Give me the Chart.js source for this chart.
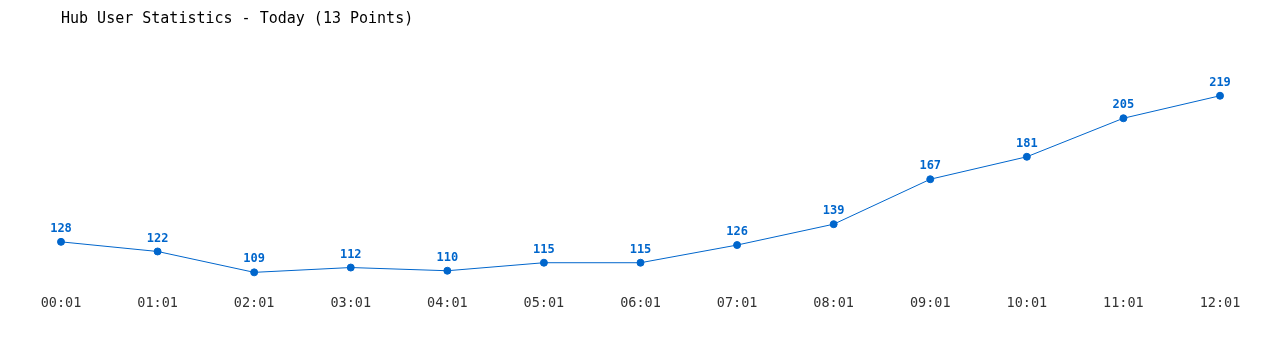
<!DOCTYPE html>
<html lang="en">
<head>
<meta charset="utf-8" />
<title>Hub User Statistics</title>
<script src="https://cdn.jsdelivr.net/npm/chart.js@4.4.1/dist/chart.umd.min.js"></script>
<style>
	html, body { margin: 0; padding: 0; background: #ffffff; }
	#wrap { width: 1280px; height: 350px; position: relative; }
</style>
</head>
<body>
<div id="wrap"><canvas id="hubChart" width="1280" height="350"></canvas></div>
<script>
	// chart data
	const timeLabels = ['00:01', '01:01', '02:01', '03:01', '04:01', '05:01', '06:01', '07:01', '08:01', '09:01', '10:01', '11:01', '12:01'];
	const userCounts = [128, 122, 109, 112, 110, 115, 115, 126, 139, 167, 181, 205, 219];
	const chartTitle = 'Hub User Statistics - Today (13 Points)';

	const blue = '#0066cc';
	const mono = '"DejaVu Sans Mono", "Liberation Mono", monospace';

	// draws the value above each point
	const valueLabels = {
		id: 'valueLabels',
		afterDatasetsDraw(chart) {
			const ctx = chart.ctx;
			const meta = chart.getDatasetMeta(0);
			ctx.save();
			ctx.font = 'bold 12px ' + mono;
			ctx.fillStyle = blue;
			ctx.textAlign = 'center';
			ctx.textBaseline = 'middle';
			meta.data.forEach((pt, i) => {
				ctx.fillText(String(userCounts[i]), pt.x, pt.y - 13);
			});
			ctx.restore();
		}
	};

	new Chart(document.getElementById('hubChart'), {
		type: 'line',
		data: {
			labels: timeLabels,
			datasets: [{
				data: userCounts,
				borderColor: blue,
				backgroundColor: blue,
				borderWidth: 1,
				pointRadius: 3.5,
				pointHoverRadius: 3.5,
				tension: 0,
				fill: false
			}]
		},
		options: {
			responsive: false,
			animation: false,
			layout: { padding: { left: 61, right: 60, top: 0, bottom: 29 } },
			plugins: {
				legend: { display: false },
				tooltip: { enabled: false },
				title: {
					display: true,
					text: chartTitle,
					align: 'start',
					color: '#000000',
					font: { family: mono, size: 15, weight: 'normal' },
					padding: { top: 10, bottom: 18 }
				}
			},
			scales: {
				x: {
					offset: false,
					grid: { display: false, drawTicks: false },
					border: { display: false },
					ticks: {
						color: '#333333',
						font: { family: mono, size: 13.5 },
						padding: 9,
						maxRotation: 0,
						autoSkip: false
					}
				},
				y: {
					display: false,
					min: 100,
					max: 250
				}
			}
		},
		plugins: [valueLabels]
	});
</script>
</body>
</html>
